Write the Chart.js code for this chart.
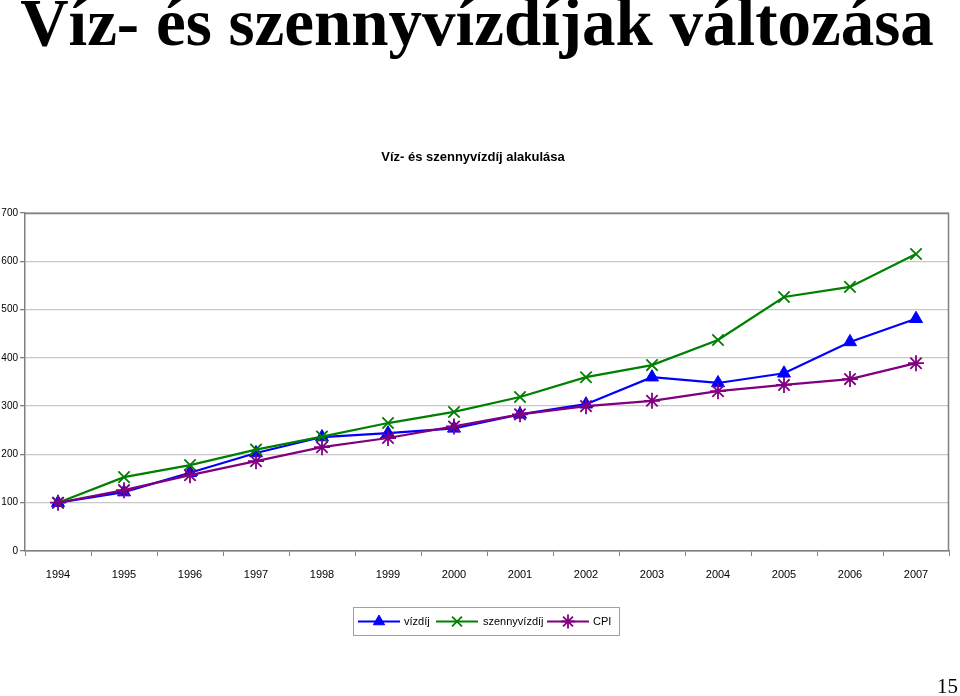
<!DOCTYPE html>
<html>
<head>
<meta charset="utf-8">
<script src="https://cdn.jsdelivr.net/npm/chart.js@4.4.0/dist/chart.umd.min.js"></script>
<style>
  html, body { margin: 0; padding: 0; background: #ffffff; }
  body { width: 960px; height: 696px; position: relative; overflow: hidden; }
  #title { position: absolute; left: 0; top: -11px; width: 954px; text-align: center; line-height: 67px;
    font-family: "Liberation Serif", "Times New Roman", serif; font-weight: bold; font-size: 67px;
    color: #000; white-space: nowrap; margin: 0; }
  #subtitle { position: absolute; left: 0; top: 149px; width: 946px; text-align: center;
    font-family: "Liberation Sans", Arial, sans-serif; font-weight: bold; font-size: 13px; color: #000; }
  #page { position: absolute; right: 2px; top: 674px; font-family: "Liberation Serif", "Times New Roman", serif;
    font-size: 21px; color: #000; }
  #wrap { position: absolute; left: 0; top: 0; width: 960px; height: 696px; }
</style>
</head>
<body>
<div id="wrap"><canvas id="c" width="960" height="696"></canvas></div>
<h1 id="title">Víz- és szennyvízdíjak változása</h1>
<div id="subtitle">Víz- és szennyvízdíj alakulása</div>
<div id="page">15</div>
<script>
const years = ['1994','1995','1996','1997','1998','1999','2000','2001','2002','2003','2004','2005','2006','2007'];
const vizdij = [100, 122, 162, 203, 236, 244, 254, 283, 304, 360, 348, 368, 433, 481];
const szennyvizdij = [100, 153, 178, 210, 237, 265, 288, 319, 360, 385, 437, 526, 547, 615];
const cpi = [100, 126, 157, 186, 215, 234, 258, 283, 300, 311, 331, 344, 356, 389];
const yTicks = [0, 100, 200, 300, 400, 500, 600, 700];
const seriesNames = ['vízdíj', 'szennyvízdíj', 'CPI'];

const plotBorder = {
  id: 'plotBorder',
  afterDatasetsDraw(chart) {
    const a = chart.chartArea, ctx = chart.ctx;
    ctx.save();
    ctx.strokeStyle = '#808080';
    ctx.lineWidth = 1.5;
    ctx.beginPath();
    ctx.moveTo(a.left, a.top + 0.5);
    ctx.lineTo(a.right - 0.5, a.top + 0.5);
    ctx.lineTo(a.right - 0.5, a.bottom);
    ctx.stroke();
    ctx.restore();
  }
};

const boxLegend = {
  id: 'boxLegend',
  afterDraw(chart) {
    const ctx = chart.ctx;
    const ds = chart.data.datasets;
    ctx.save();
    ctx.strokeStyle = '#a0a0a0';
    ctx.lineWidth = 1;
    ctx.strokeRect(353.5, 607.5, 266, 28);
    const cy = 621.5;
    const items = [
      {x0: 358, x1: 400, mx: 379, tx: 404},
      {x0: 436, x1: 478, mx: 457, tx: 483},
      {x0: 547, x1: 589, mx: 568, tx: 593}
    ];
    ds.forEach((d, i) => {
      const it = items[i];
      ctx.strokeStyle = d.borderColor;
      ctx.fillStyle = d.pointBackgroundColor;
      ctx.lineWidth = 2;
      ctx.beginPath();
      ctx.moveTo(it.x0, cy);
      ctx.lineTo(it.x1, cy);
      ctx.stroke();
      ctx.strokeStyle = d.pointBorderColor;
      ctx.lineWidth = d.pointBorderWidth;
      Chart.helpers.drawPoint(ctx, {pointStyle: d.pointStyle, radius: d.pointRadius - 1, borderWidth: d.pointBorderWidth, rotation: 0}, it.mx, cy);
      ctx.fillStyle = '#000';
      ctx.font = '11px "Liberation Sans", Arial, sans-serif';
      ctx.textBaseline = 'middle';
      ctx.textAlign = 'left';
      ctx.fillText(d.label, it.tx, cy);
    });
    ctx.restore();
  }
};

new Chart(document.getElementById('c'), {
  type: 'line',
  data: {
    labels: years,
    datasets: [
      { label: seriesNames[0], data: vizdij, borderColor: '#0000ff', backgroundColor: '#0000ff',
        pointBackgroundColor: '#0000ff', pointBorderColor: '#0000ff', pointStyle: 'triangle',
        pointRadius: 7.5, pointBorderWidth: 1, borderWidth: 2.2, order: 3, tension: 0 },
      { label: seriesNames[1], data: szennyvizdij, borderColor: '#008000', backgroundColor: '#008000',
        pointBackgroundColor: '#008000', pointBorderColor: '#008000', pointStyle: 'crossRot',
        pointRadius: 8, pointBorderWidth: 1.8, borderWidth: 2.2, order: 2, tension: 0 },
      { label: seriesNames[2], data: cpi, borderColor: '#800080', backgroundColor: '#800080',
        pointBackgroundColor: '#800080', pointBorderColor: '#800080', pointStyle: 'star',
        pointRadius: 8, pointBorderWidth: 1.8, borderWidth: 2.2, order: 1, tension: 0 }
    ]
  },
  options: {
    responsive: false,
    animation: false,
    events: [],
    layout: { padding: { left: 0, right: 11, top: 213, bottom: 105 } },
    plugins: {
      legend: { display: false },
      title: { display: false },
      tooltip: { enabled: false }
    },
    scales: {
      x: {
        type: 'category',
        offset: true,
        afterFit(s) { s.height = 40; },
        grid: { offset: true, drawOnChartArea: false, drawTicks: true, tickLength: 5, color: '#808080' },
        border: { color: '#808080', width: 1.5 },
        ticks: { color: '#000', font: { family: '"Liberation Sans", Arial, sans-serif', size: 11 }, padding: 12,
          maxRotation: 0, autoSkip: false }
      },
      y: {
        min: 0, max: 700,
        afterFit(s) { s.width = 25; },
        afterBuildTicks(s) { s.ticks = yTicks.map(v => ({ value: v })); },
        grid: { color: (c) => c.tick && c.tick.value === 0 ? '#808080' : '#c8c8c8', lineWidth: 1.3,
          drawTicks: true, tickLength: 5, tickColor: '#808080' },
        border: { color: '#808080', width: 1.5 },
        ticks: { color: '#000', font: { family: '"Liberation Sans", Arial, sans-serif', size: 10 }, padding: 2 }
      }
    }
  },
  plugins: [plotBorder, boxLegend]
});
</script>
</body>
</html>
